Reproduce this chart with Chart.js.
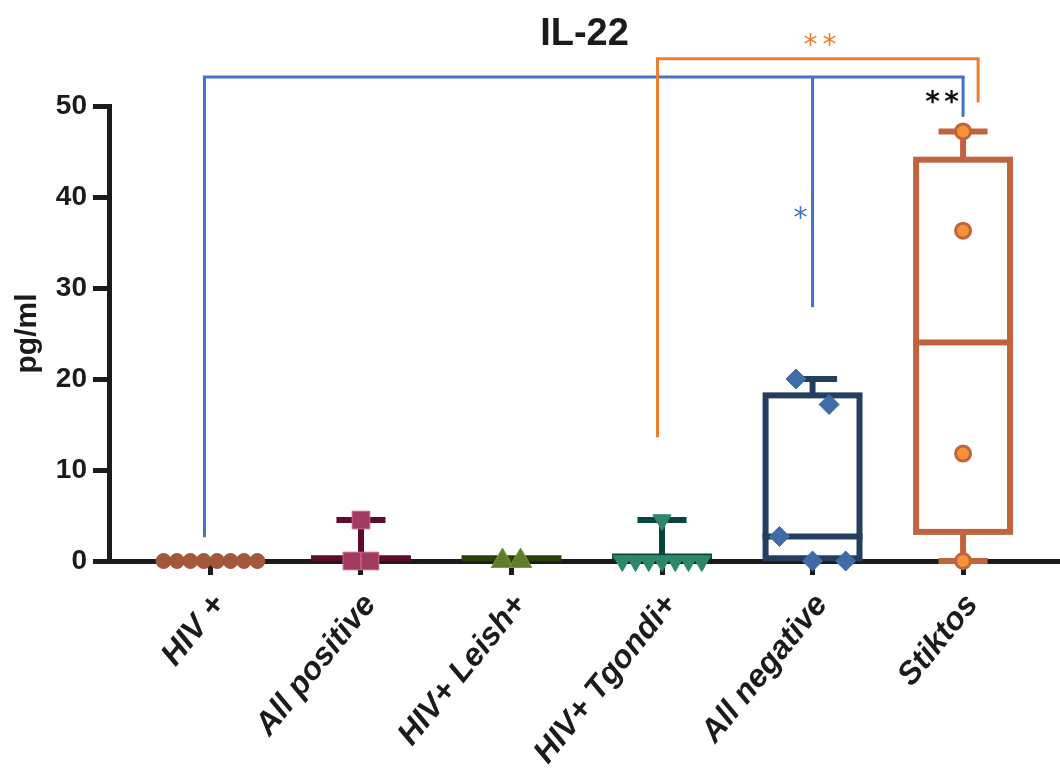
<!DOCTYPE html>
<html>
<head>
<meta charset="utf-8">
<title>IL-22</title>
<script src="https://cdn.jsdelivr.net/npm/chart.js@4.4.1/dist/chart.umd.min.js"></script>
<style>
  html, body { margin: 0; padding: 0; background: #ffffff; }
  #chart { display: block; }
</style>
</head>
<body>
<canvas id="chart" width="1060" height="771"></canvas>
<script>
// ---- data ----
const groups = ['HIV +', 'All positive', 'HIV+ Leish+', 'HIV+ Tgondi+', 'All negative', 'Stiktos'];

// individual measurements (pg/ml)
const hivPos      = [0, 0, 0, 0, 0, 0, 0, 0];
const allPositive = [4.5, 0, 0];
const hivLeish    = [0, 0];
const hivTgondi   = [4.5, 0, 0, 0, 0, 0, 0, 0];
const allNegative = [20, 17.2, 2.7, 0, 0];
const stiktos     = [47.2, 36.3, 11.8, 0];

// box summaries: [min, q1, median, q3, max]
const hivPosBox      = [0, 0, 0, 0, 0];
const allPositiveBox = [0.3, 0.3, 0.3, 0.3, 4.5];
const hivLeishBox    = [0.3, 0.3, 0.3, 0.3, 0.3];
const hivTgondiBox   = [0.5, 0.5, 0.5, 0.5, 4.5];
const allNegativeBox = [0.3, 0.3, 2.7, 18.2, 20];
const stiktosBox     = [0, 3.2, 24.0, 44.1, 47.2];

const yTicks = [0, 10, 20, 30, 40, 50];

// significance brackets: bar height, legs [x, lower end]
const bracketBlue   = { y: 53.2, legs: [[-0.04, 2.6], [4, 27.9], [5, 48.8]] };
const bracketOrange = { y: 55.2, legs: [[2.97, 13.6], [5.1, 50.4]] };
const starLabels = ['**', '*', '**'];
const starX = [4.05, 3.92, 4.86];
const starY = [57.2, 38.2, 51.0];

// ---- styling ----
const AXIS = '#1b1b1b';
const SANS = '"Liberation Sans", Arial, sans-serif';

const values = [hivPos, allPositive, hivLeish, hivTgondi, allNegative, stiktos];
const boxes  = [hivPosBox, allPositiveBox, hivLeishBox, hivTgondiBox, allNegativeBox, stiktosBox];

const styles = [
  { line: '#7b3319', fill: '#a3573b', edge: '#a3573b', shape: 'circle',   r: 7.5, bw: 1, rot: 0,   step: 0.089 },
  { line: '#5e0b2c', fill: '#a33b60', edge: '#c46a8c', shape: 'rect',     r: 12.5, bw: 1, rot: 0,  step: 0.12 },
  { line: '#2a4208', fill: '#5e7d2b', edge: '#7a9748', shape: 'triangle', r: 13,  bw: 1, rot: 0,   step: 0.12 },
  { line: '#07463a', fill: '#2d876b', edge: '#2d876b', shape: 'triangle', r: 10.5, bw: 1, rot: 180, step: 0.088 },
  { line: '#253e60', fill: '#3f6ba9', edge: '#3f6ba9', shape: 'rectRot',  r: 10,  bw: 1, rot: 0,   step: 0.22 },
  { line: '#c0643f', fill: '#f4923a', edge: '#c0643f', shape: 'circle',   r: 7.5, bw: 3, rot: 0,   step: 0.1 }
];
const BOX_HALF = 0.312;   // half box width, category units
const CAP_HALF = 0.163;   // half whisker-cap width
const NEAR = 3.3;         // values closer than this are spread side by side

// spread points of similar value horizontally around the group centre
function spreadOffsets(vals, step) {
  const order = vals.map((v, i) => i).sort((a, b) => vals[b] - vals[a]);
  const off = new Array(vals.length).fill(0);
  let cluster = [order[0]];
  const flush = () => {
    const n = cluster.length;
    cluster.slice().sort((a, b) => a - b).forEach((idx, k) => { off[idx] = (k - (n - 1) / 2) * step; });
  };
  for (let j = 1; j < order.length; j++) {
    const idx = order[j];
    if (vals[cluster[cluster.length - 1]] - vals[idx] < NEAR) cluster.push(idx);
    else { flush(); cluster = [idx]; }
  }
  flush();
  return off;
}

const datasets = values.map((vals, g) => {
  const st = styles[g];
  const off = spreadOffsets(vals, st.step);
  return {
    label: groups[g],
    data: vals.map((v, i) => ({ x: g + off[i], y: v })),
    pointStyle: st.shape,
    pointRadius: st.r,
    pointHoverRadius: st.r,
    pointRotation: st.rot,
    backgroundColor: st.fill,
    borderColor: st.edge,
    borderWidth: st.bw,
    clip: false
  };
});

// box-and-whisker outlines behind the points
const boxPlugin = {
  id: 'boxes',
  beforeDatasetsDraw(chart) {
    const { ctx, scales: { x, y } } = chart;
    const unit = x.getPixelForValue(1) - x.getPixelForValue(0);
    ctx.save();
    boxes.forEach((b, g) => {
      const [mn, q1, md, q3, mx] = b;
      const xc = x.getPixelForValue(g);
      const hw = BOX_HALF * unit, ch = CAP_HALF * unit;
      ctx.strokeStyle = styles[g].line;
      ctx.lineWidth = 6;
      ctx.lineCap = 'butt';
      ctx.lineJoin = 'miter';
      const seg = (x1, y1, x2, y2) => { ctx.beginPath(); ctx.moveTo(x1, y1); ctx.lineTo(x2, y2); ctx.stroke(); };
      if (mx > q3) {
        seg(xc, y.getPixelForValue(q3), xc, y.getPixelForValue(mx));
        seg(xc - ch, y.getPixelForValue(mx), xc + ch, y.getPixelForValue(mx));
      }
      if (mn < q1) {
        seg(xc, y.getPixelForValue(q1), xc, y.getPixelForValue(mn));
        seg(xc - ch, y.getPixelForValue(mn), xc + ch, y.getPixelForValue(mn));
      }
      const top = y.getPixelForValue(q3), bot = y.getPixelForValue(q1);
      if (bot - top > 1) {
        ctx.strokeRect(xc - hw, top, 2 * hw, bot - top);
      }
      seg(xc - hw - 3, y.getPixelForValue(md), xc + hw + 3, y.getPixelForValue(md));
    });
    ctx.restore();
  }
};

// significance brackets and asterisks
const sigPlugin = {
  id: 'significance',
  afterDatasetsDraw(chart) {
    const { ctx, scales: { x, y } } = chart;
    ctx.save();
    ctx.lineWidth = 3;
    ctx.lineCap = 'butt';
    const drawBracket = (br, color) => {
      ctx.strokeStyle = color;
      const yb = y.getPixelForValue(br.y);
      const xs = br.legs.map(l => x.getPixelForValue(l[0]));
      ctx.beginPath();
      ctx.moveTo(Math.min(...xs) - 1.5, yb);
      ctx.lineTo(Math.max(...xs) + 1.5, yb);
      ctx.stroke();
      br.legs.forEach(l => {
        ctx.beginPath();
        ctx.moveTo(x.getPixelForValue(l[0]), yb);
        ctx.lineTo(x.getPixelForValue(l[0]), y.getPixelForValue(l[1]));
        ctx.stroke();
      });
    };
    drawBracket(bracketBlue, '#4472c4');
    drawBracket(bracketOrange, '#ed7d31');

    const colors = ['#ed7d31', '#4472c4', '#111111'];
    const fonts = ['28px "DejaVu Sans"', '28px "DejaVu Sans"', 'bold 28px "DejaVu Sans"'];
    starLabels.forEach((txt, i) => {
      ctx.fillStyle = colors[i];
      ctx.font = fonts[i];
      ctx.textAlign = 'center';
      ctx.textBaseline = 'alphabetic';
      const m = ctx.measureText('*');
      const cy = y.getPixelForValue(starY[i]);
      const base = cy + (m.actualBoundingBoxAscent - m.actualBoundingBoxDescent) / 2;
      const cx = x.getPixelForValue(starX[i]);
      const gap = 19;
      const n = txt.length;
      for (let k = 0; k < n; k++) {
        ctx.fillText('*', cx + (k - (n - 1) / 2) * gap, base);
      }
    });
    ctx.restore();
  }
};

new Chart(document.getElementById('chart'), {
  type: 'scatter',
  data: { datasets },
  plugins: [boxPlugin, sigPlugin],
  options: {
    responsive: false,
    animation: false,
    layout: { autoPadding: false, padding: 0 },
    plugins: {
      legend: { display: false },
      tooltip: { enabled: false },
      title: {
        display: true,
        text: 'IL-22',
        fullSize: false,
        color: AXIS,
        font: { family: SANS, size: 38, weight: 'bold', lineHeight: 1 },
        padding: { top: 16, bottom: 52 }
      }
    },
    scales: {
      x: {
        type: 'linear',
        min: -0.674,
        max: 5.644,
        afterBuildTicks: s => { s.ticks = groups.map((g, i) => ({ value: i })); },
        afterFit: s => { s.height = 210; s.paddingLeft = 0; s.paddingRight = 0; },
        border: { display: true, width: 5, color: AXIS },
        grid: { display: true, drawOnChartArea: false, drawTicks: true, tickLength: 14, tickWidth: 5, tickColor: AXIS, color: AXIS },
        ticks: {
          autoSkip: false,
          minRotation: 51,
          maxRotation: 51,
          padding: 12,
          labelOffset: 9,
          color: AXIS,
          font: { family: SANS, size: 32, weight: 'bold', style: 'italic' },
          callback: v => groups[v]
        }
      },
      y: {
        type: 'linear',
        min: 0,
        max: 50,
        afterBuildTicks: s => { s.ticks = yTicks.map(v => ({ value: v })); },
        afterFit: s => { s.width = 109; s.paddingTop = 0; s.paddingBottom = 0; },
        border: { display: true, width: 5, color: AXIS },
        grid: { display: true, drawOnChartArea: false, drawTicks: true, tickLength: 16, tickWidth: 5, tickColor: AXIS, color: AXIS },
        ticks: {
          padding: 6,
          color: AXIS,
          font: { family: SANS, size: 28, weight: 'bold' }
        },
        title: {
          display: true,
          text: 'pg/ml',
          color: AXIS,
          font: { family: SANS, size: 30, weight: 'bold' },
          padding: { top: 10, bottom: 0 }
        }
      }
    }
  }
});
</script>
</body>
</html>
